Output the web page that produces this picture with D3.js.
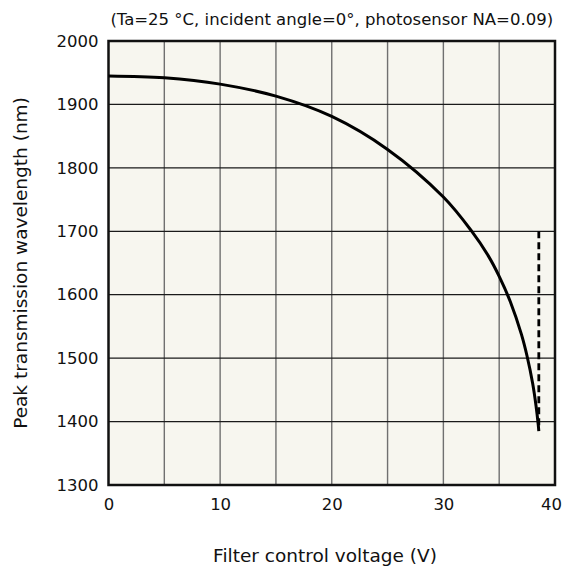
<!DOCTYPE html>
<html>
    <head>
        <meta charset="utf-8">
        <script src="https://d3js.org/d3.v7.min.js"></script>
        <title>Peak transmission wavelength</title>
        <style>
            body { margin: 0; background-color: #ffffff }
            text { font-family: "DejaVu Sans", Verdana, sans-serif; fill: #111 }
        </style>
    </head>
    <body>
        <script>
            /* values */
            const voltage = [0, 5, 10, 15, 20, 25, 30, 32.5, 34, 35, 36, 37, 37.5, 38, 38.3, 38.5, 38.55]
            const wavelength = [1945, 1942, 1932, 1913, 1881, 1829, 1754, 1701, 1662, 1629, 1589, 1537, 1503, 1460, 1425, 1395, 1385]
            const dashV = [38.55, 38.55]
            const dashNm = [1700, 1390]
            const xTicks = [0, 10, 20, 30, 40]
            const yTicks = [1300, 1400, 1500, 1600, 1700, 1800, 1900, 2000]
            const xGrid = [5, 10, 15, 20, 25, 30, 35]

            const width = 566
            const height = 574
            const margin = { top: 41, right: 11, bottom: 89, left: 108.5 }

            const svg = d3.select('body')
                .append('svg')
                    .attr('width', width)
                    .attr('height', height)

            const xScale = d3.scaleLinear().domain([0, 40]).range([margin.left, width - margin.right])
            const yScale = d3.scaleLinear().domain([1300, 2000]).range([height - margin.bottom, margin.top])

            /* plot background */
            svg.append('rect')
                .attr('x', xScale(0))
                .attr('y', yScale(2000))
                .attr('width', xScale(40) - xScale(0))
                .attr('height', yScale(1300) - yScale(2000))
                .attr('fill', '#f7f6ef')

            /* grid */
            svg.append('g')
                .selectAll('line')
                .data(xGrid)
                .join('line')
                    .attr('x1', d => xScale(d))
                    .attr('x2', d => xScale(d))
                    .attr('y1', yScale(1300))
                    .attr('y2', yScale(2000))
                    .attr('stroke', '#707070')
                    .attr('stroke-width', 1.4)

            svg.append('g')
                .selectAll('line')
                .data(yTicks.slice(1, -1))
                .join('line')
                    .attr('x1', xScale(0))
                    .attr('x2', xScale(40))
                    .attr('y1', d => yScale(d))
                    .attr('y2', d => yScale(d))
                    .attr('stroke', '#1a1a1a')
                    .attr('stroke-width', 1.2)

            /* axes */
            const xAxis = svg.append('g')
                .attr('transform', `translate(0,${yScale(1300)})`)
                .call(d3.axisBottom(xScale).tickValues(xTicks).tickFormat(d3.format('d')).tickSize(0).tickPadding(13))
            xAxis.select('.domain').remove()
            xAxis.selectAll('text').attr('font-size', 16.5).attr('fill', '#111')
                .attr('dx', d => d === 40 ? -4 : 0)

            const yAxis = svg.append('g')
                .attr('transform', `translate(${xScale(0)},0)`)
                .call(d3.axisLeft(yScale).tickValues(yTicks).tickFormat(d3.format('d')).tickSize(0).tickPadding(10))
            yAxis.select('.domain').remove()
            yAxis.selectAll('text').attr('font-size', 16.5).attr('fill', '#111')

            /* frame */
            svg.append('rect')
                .attr('x', xScale(0))
                .attr('y', yScale(2000))
                .attr('width', xScale(40) - xScale(0))
                .attr('height', yScale(1300) - yScale(2000))
                .attr('fill', 'none')
                .attr('stroke', '#111')
                .attr('stroke-width', 2.5)

            /* curve */
            const line = d3.line()
                .x(d => xScale(d[0]))
                .y(d => yScale(d[1]))
                .curve(d3.curveCatmullRom.alpha(0.5))

            svg.append('path')
                .datum(d3.zip(voltage, wavelength))
                .attr('d', line)
                .attr('fill', 'none')
                .attr('stroke', '#000')
                .attr('stroke-width', 3)

            svg.append('path')
                .datum(d3.zip(dashV, dashNm))
                .attr('d', d3.line().x(d => xScale(d[0])).y(d => yScale(d[1])))
                .attr('fill', 'none')
                .attr('stroke', '#000')
                .attr('stroke-width', 2.8)
                .attr('stroke-dasharray', '7,4')

            /* labels */
            svg.append('text')
                .attr('x', (xScale(0) + xScale(40)) / 2)
                .attr('y', 25)
                .attr('text-anchor', 'middle')
                .attr('font-size', 16.5)
                .text('(Ta=25 °C, incident angle=0°, photosensor NA=0.09)')

            svg.append('text')
                .attr('x', 325)
                .attr('y', 562)
                .attr('text-anchor', 'middle')
                .attr('font-size', 18.5)
                .text('Filter control voltage (V)')

            svg.append('text')
                .attr('transform', `translate(27,${(yScale(1300) + yScale(2000)) / 2}) rotate(-90)`)
                .attr('text-anchor', 'middle')
                .attr('font-size', 18.5)
                .text('Peak transmission wavelength (nm)')
        </script>
    </body>
</html>
